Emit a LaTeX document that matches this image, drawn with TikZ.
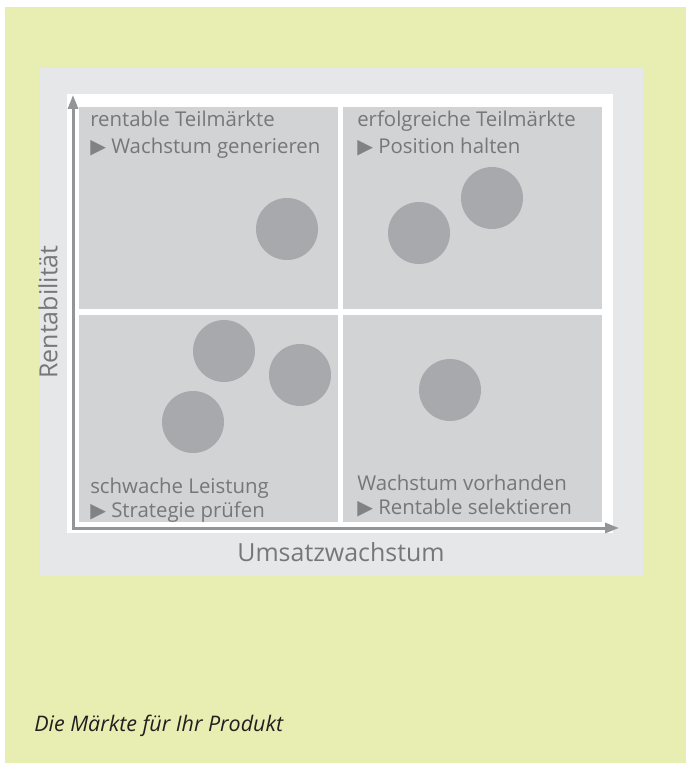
\documentclass[tikz,border=0pt]{standalone}
\usepackage{fontspec}
\setmainfont{Open Sans}
\newfontfamily\symbfont{DejaVu Sans}
\usepackage{tikz}
\usetikzlibrary{arrows.meta}
\definecolor{hintergrund}{HTML}{E8EDB1}
\definecolor{panelgrau}{HTML}{E6E7E8}
\definecolor{feldgrau}{HTML}{D1D3D4}
\definecolor{marktgrau}{HTML}{A7A9AC}
\definecolor{achsgrau}{HTML}{939598}
\definecolor{textgrau}{HTML}{76777A}
\definecolor{pfeilgrau}{HTML}{808285}
\definecolor{titelfarbe}{HTML}{231F20}
\newcommand{\pfeil}{{\color{pfeilgrau}\symbfont ▶}}

\begin{document}
\begin{tikzpicture}[x=0.75pt,y=-0.75pt]
    \tikzstyle{feld}=[fill=feldgrau]
    \tikzstyle{markt}=[circle,fill=marktgrau,minimum size=46.5pt,inner sep=0pt]
    \tikzstyle{feldtext}=[anchor=base west,inner sep=0pt,text=textgrau,font=\fontsize{15.3}{18}\selectfont]
    \tikzstyle{achstext}=[inner sep=0pt,text=textgrau,font=\fontsize{18.7}{22}\selectfont]
    \tikzstyle{achse}=[achsgrau,line width=2.25pt,line cap=rect,-{Triangle[length=10.5pt,width=7.5pt]}]
    \useasboundingbox (0,0) rectangle (686,763);
    % flaechen
    \fill[white] (0,0) rectangle (686,763);
    \fill[hintergrund] (5,7) rectangle (686,763);
    \fill[panelgrau] (40,68) rectangle (643,576);
    \fill[white] (67,94) rectangle (613,533);
    \fill[feld] (79,107) rectangle (338,309);
    \fill[feld] (343,107) rectangle (602,309);
    \fill[feld] (79,315) rectangle (338,522);
    \fill[feld] (343,315) rectangle (602,522);
    % achsen
    \coordinate (ursprung) at (73,528);
    \coordinate (y_ende) at (73,95);
    \coordinate (x_ende) at (619,528);
    \draw[achse] (ursprung) -- (y_ende);
    \draw[achse] (ursprung) -- (x_ende);
    \node[achstext,rotate=90] (y_text) at (48,312) {Rentabilität};
    \node[achstext] (x_text) at (341,552) {Umsatzwachstum};
    % maerkte
    \node[markt] (m_1) at (287,229) {};
    \node[markt] (m_2) at (419,233) {};
    \node[markt] (m_3) at (492,198) {};
    \node[markt] (m_4) at (224,351) {};
    \node[markt] (m_5) at (300,375) {};
    \node[markt] (m_6) at (193,422) {};
    \node[markt] (m_7) at (450,390) {};
    % texte
    \node[feldtext] (tl_1) at (90,127) {rentable Teilmärkte};
    \node[feldtext] (tl_2) at (90,154) {\pfeil\ Wachstum generieren};
    \node[feldtext] (tr_1) at (357,127) {erfolgreiche Teilmärkte};
    \node[feldtext] (tr_2) at (357,154) {\pfeil\ Position halten};
    \node[feldtext] (bl_1) at (90,493) {schwache Leistung};
    \node[feldtext] (bl_2) at (90,517) {\pfeil\ Strategie prüfen};
    \node[feldtext] (br_1) at (357,490) {Wachstum vorhanden};
    \node[feldtext] (br_2) at (357,514) {\pfeil\ Rentable selektieren};
    \node[anchor=base west,inner sep=0pt,text=titelfarbe,font=\itshape\fontsize{16.1}{19}\selectfont] (titel) at (34,731) {Die Märkte für Ihr Produkt};
\end{tikzpicture}
\end{document}
